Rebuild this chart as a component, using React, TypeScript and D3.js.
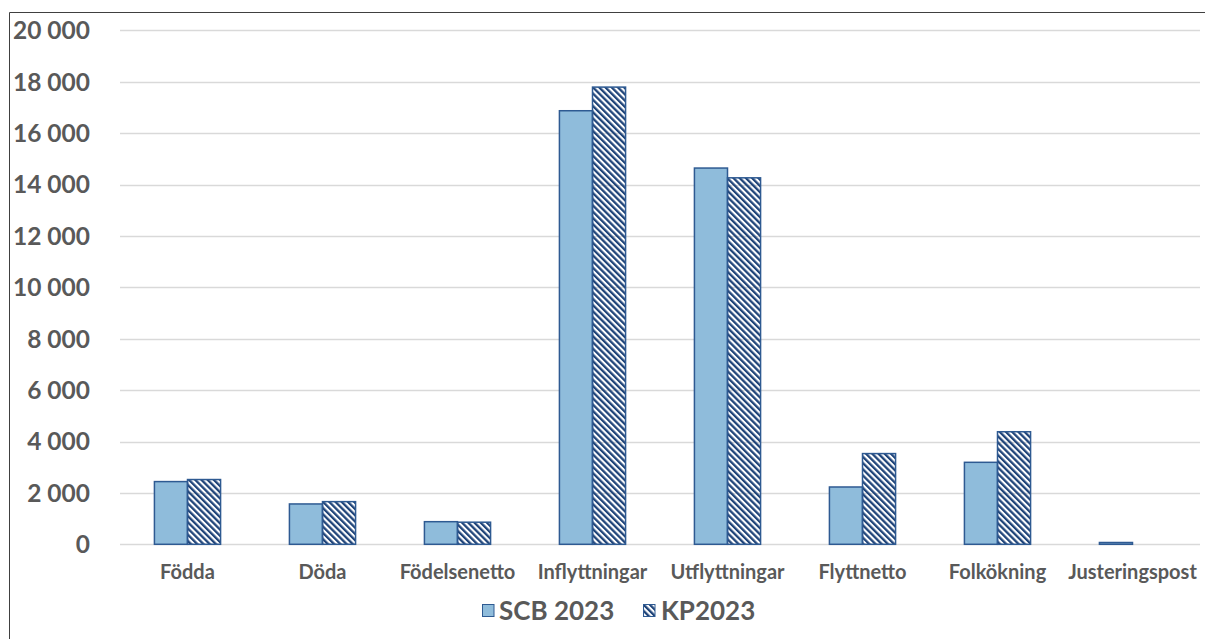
import React from "react";
import * as d3 from "d3";

const categories = ["Födda", "Döda", "Födelsenetto", "Inflyttningar", "Utflyttningar", "Flyttnetto", "Folkökning", "Justeringspost"];
const seriesNames = ["SCB 2023", "KP2023"];
const scb2023 = [2440, 1570, 880, 16870, 14640, 2230, 3190, 70];
const kp2023 = [2520, 1660, 860, 17790, 14260, 3530, 4380, 0];
const yTicks = [0, 2000, 4000, 6000, 8000, 10000, 12000, 14000, 16000, 18000, 20000];

const W = 1205;
const H = 639;
const TEXT = "#595959";
const FONT = "Lato, 'Open Sans', sans-serif";
const SCB_FILL = "#8FBCDB";
const EDGE = "#2E5A92";
const STRIPE = "#1F4479";

export default function App() {
  const x = d3.scaleBand<string>().domain(categories).range([120, 1200]).paddingInner(0.51).paddingOuter(0.255);
  const xs = d3.scaleBand<string>().domain(seriesNames).range([0, x.bandwidth()]);
  const y = d3.scaleLinear().domain([0, 20000]).range([544.3, 30.3]);
  const fmt = (v: number) => d3.format(",")(v).replace(/,/g, " ");
  const data = [scb2023, kp2023];

  return (
    <svg width={W} height={H} style={{ position: "absolute", left: 0, top: 0, display: "block", background: "#fff" }}>
      <defs>
        <pattern id="hatch" patternUnits="userSpaceOnUse" width={4.4} height={4.4} patternTransform="rotate(-45)">
          <rect x={0} y={0} width={2.3} height={4.4} fill={STRIPE} />
        </pattern>
      </defs>
      <rect x={0} y={0} width={W} height={H} fill="#fff" />
      <line x1={9.5} x2={9.5} y1={12.5} y2={H} stroke="#404040" strokeWidth={1} />
      <line x1={9.5} x2={W} y1={12.5} y2={12.5} stroke="#404040" strokeWidth={1} />
      {yTicks.map((t) => (
        <g key={t}>
          <line x1={120} x2={1200} y1={Math.round(y(t)) + 0.5} y2={Math.round(y(t)) + 0.5} stroke="#D9D9D9" strokeWidth={1.3} />
          <text x={90} y={y(t)} dy="0.36em" textAnchor="end" fontFamily={FONT} fontWeight={700} fontSize={24.5} fill={TEXT}>
            {fmt(t)}
          </text>
        </g>
      ))}
      {categories.map((c, i) => (
        <g key={c}>
          {seriesNames.map((s, j) => {
            const v = data[j][i];
            if (!v) return null;
            const bx = (x(c) as number) + (xs(s) as number);
            return (
              <rect
                key={s}
                x={bx}
                y={y(v)}
                width={xs.bandwidth()}
                height={y(0) - y(v)}
                fill={j === 0 ? SCB_FILL : "url(#hatch)"}
                stroke={EDGE}
                strokeWidth={1.5}
              />
            );
          })}
          <text x={(x(c) as number) + x.bandwidth() / 2} y={579} textAnchor="middle" fontFamily={FONT} fontWeight={700} fontSize={20} fill={TEXT}>
            {c}
          </text>
        </g>
      ))}
      <g>
        <rect x={482.5} y={604.5} width={11.5} height={12} fill={SCB_FILL} stroke={EDGE} strokeWidth={1} />
        <text x={499} y={620} fontFamily={FONT} fontWeight={700} fontSize={26} fill={TEXT}>
          {seriesNames[0]}
        </text>
        <rect x={643.5} y={604.5} width={11.5} height={12} fill="url(#hatch)" stroke={EDGE} strokeWidth={1} />
        <text x={661} y={620} fontFamily={FONT} fontWeight={700} fontSize={26} fill={TEXT}>
          {seriesNames[1]}
        </text>
      </g>
    </svg>
  );
}
